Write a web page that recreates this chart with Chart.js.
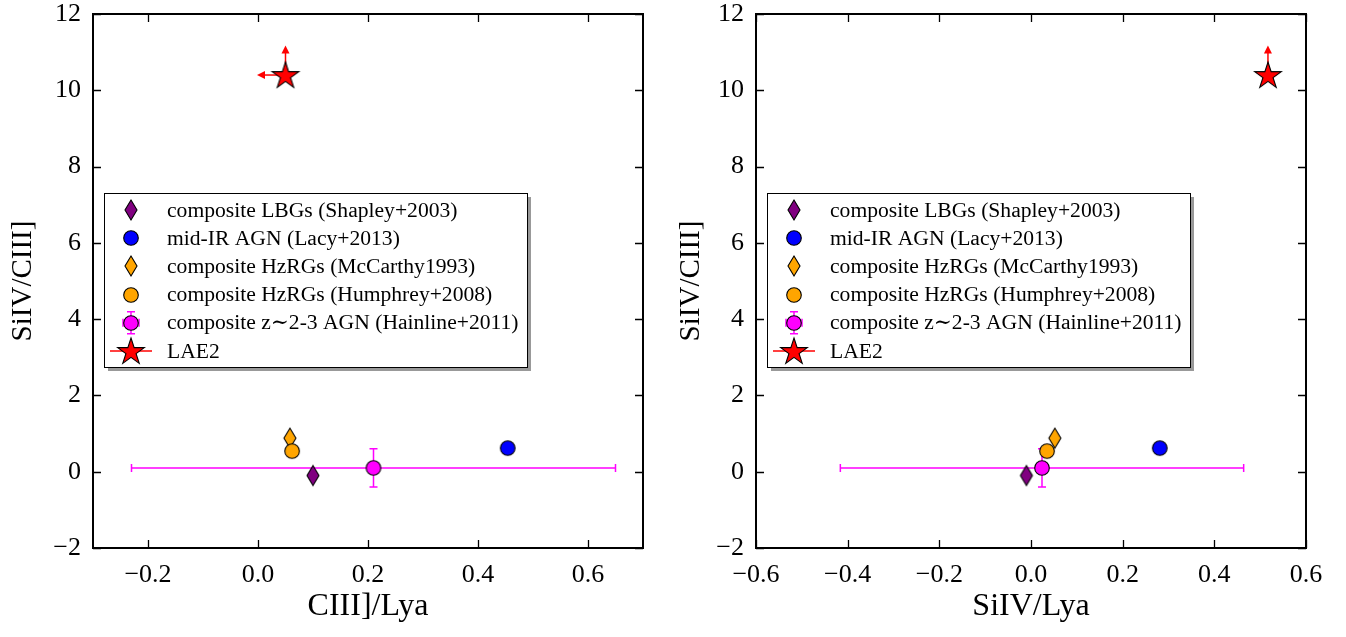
<!DOCTYPE html>
<html><head><meta charset="utf-8">
<script src="https://cdn.jsdelivr.net/npm/chart.js@4.4.1/dist/chart.umd.min.js"></script>
<style>
html,body{margin:0;padding:0;background:#fff;}
#wrap{display:flex;width:1346px;height:637px;}
canvas{display:block;}
</style></head><body>
<div id="wrap"><canvas id="c1" width="673" height="637"></canvas><canvas id="c2" width="673" height="637"></canvas></div>
<script>
// ---------- data ----------
const seriesLabels = [
  'composite LBGs (Shapley+2003)',
  'mid-IR AGN (Lacy+2013)',
  'composite HzRGs (McCarthy1993)',
  'composite HzRGs (Humphrey+2008)',
  'composite z\u223C2-3 AGN (Hainline+2011)',
  'LAE2'
];
const seriesColors = ['#800080', '#0000ff', '#ffa500', '#ffa500', '#ff00ff', '#ff0000'];
const seriesMarkers = ['diamond', 'circle', 'diamond', 'circle', 'circle', 'star'];
const siivCiiiValues = [-0.1, 0.62, 0.88, 0.54, 0.1, 10.4];
const ciiiLyaValues = [0.10, 0.454, 0.058, 0.062, 0.21, 0.05];
const siivLyaValues = [-0.01, 0.281, 0.052, 0.035, 0.024, 0.517];
const hainlineXErrCiii = 0.44;
const hainlineXErrSiiv = 0.44;
const hainlineYErr = 0.5;
const lae2YLimitLen = 0.75;
const lae2XLimitLenCiii = 0.05;
const yTicks = [-2, 0, 2, 4, 6, 8, 10, 12];
const yTickLabels = ['\u22122', '0', '2', '4', '6', '8', '10', '12'];
const xTicksCiii = [-0.2, 0.0, 0.2, 0.4, 0.6];
const xTickLabelsCiii = ['\u22120.2', '0.0', '0.2', '0.4', '0.6'];
const xTicksSiiv = [-0.6, -0.4, -0.2, 0.0, 0.2, 0.4, 0.6];
const xTickLabelsSiiv = ['\u22120.6', '\u22120.4', '\u22120.2', '0.0', '0.2', '0.4', '0.6'];

// ---------- styling ----------
const FONT = "'Liberation Serif', 'DejaVu Serif', serif";
Chart.defaults.font.family = FONT;
Chart.defaults.color = '#000';

function makeMarker(type, color) {
  const c = document.createElement('canvas');
  let ctx;
  if (type === 'diamond') {
    c.width = 16; c.height = 24; ctx = c.getContext('2d');
    ctx.beginPath(); ctx.moveTo(8, 2); ctx.lineTo(14, 12); ctx.lineTo(8, 22); ctx.lineTo(2, 12); ctx.closePath();
  } else if (type === 'circle') {
    c.width = 18; c.height = 18; ctx = c.getContext('2d');
    ctx.beginPath(); ctx.arc(9, 9, 7.3, 0, Math.PI * 2);
  } else {
    c.width = 32; c.height = 32; ctx = c.getContext('2d');
    const R = 14, r = R * 0.382, cx = 16, cy = 17;
    ctx.beginPath();
    for (let k = 0; k < 10; k++) {
      const a = -Math.PI / 2 + k * Math.PI / 5;
      const rr = k % 2 === 0 ? R : r;
      const px = cx + rr * Math.cos(a), py = cy + rr * Math.sin(a);
      k === 0 ? ctx.moveTo(px, py) : ctx.lineTo(px, py);
    }
    ctx.closePath();
  }
  ctx.fillStyle = color; ctx.fill();
  ctx.lineWidth = 1.1; ctx.strokeStyle = '#000'; ctx.lineJoin = 'miter'; ctx.stroke();
  return c;
}
const markerImgs = seriesMarkers.map((m, i) => makeMarker(m, seriesColors[i]));

function arrowHead(ctx, x, y, dir) {
  ctx.beginPath();
  if (dir === 'up') { ctx.moveTo(x, y - 1); ctx.lineTo(x - 4, y + 7); ctx.lineTo(x + 4, y + 7); }
  else { ctx.moveTo(x - 1, y); ctx.lineTo(x + 7, y - 4); ctx.lineTo(x + 7, y + 4); }
  ctx.closePath(); ctx.fill();
}

function makeChart(canvasId, xVals, xTicks, xTickLabels, xMin, xMax, xTitle, yAxisWidth, rightPad, yTitlePad, hainXErr, xLimLen) {
  const datasets = seriesLabels.map((lab, i) => ({
    label: lab,
    data: [{ x: xVals[i], y: siivCiiiValues[i] }],
    pointStyle: markerImgs[i],
    pointRadius: 10,
    order: 5 - i
  }));

  const errPlugin = {
    id: 'errbars',
    beforeDatasetsDraw(chart) {
      const ctx = chart.ctx, xs = chart.scales.x, ys = chart.scales.y;
      ctx.save();
      const hx = xVals[4], hy = siivCiiiValues[4];
      const px = xs.getPixelForValue(hx), py = ys.getPixelForValue(hy);
      const x0 = xs.getPixelForValue(hx - hainXErr), x1 = xs.getPixelForValue(hx + hainXErr);
      const y0 = ys.getPixelForValue(hy - hainlineYErr), y1 = ys.getPixelForValue(hy + hainlineYErr);
      ctx.strokeStyle = '#ff00ff'; ctx.lineWidth = 1.5;
      ctx.beginPath();
      ctx.moveTo(x0, py); ctx.lineTo(x1, py);
      ctx.moveTo(x0, py - 4); ctx.lineTo(x0, py + 4);
      ctx.moveTo(x1, py - 4); ctx.lineTo(x1, py + 4);
      ctx.moveTo(px, y0); ctx.lineTo(px, y1);
      ctx.moveTo(px - 4, y0); ctx.lineTo(px + 4, y0);
      ctx.moveTo(px - 4, y1); ctx.lineTo(px + 4, y1);
      ctx.stroke();
      const lx = xVals[5], ly = siivCiiiValues[5];
      const sx = xs.getPixelForValue(lx), sy = ys.getPixelForValue(ly);
      ctx.strokeStyle = '#ff0000'; ctx.fillStyle = '#ff0000'; ctx.lineWidth = 1.5;
      const ty = ys.getPixelForValue(ly + lae2YLimitLen);
      ctx.beginPath(); ctx.moveTo(sx, sy); ctx.lineTo(sx, ty + 4); ctx.stroke();
      arrowHead(ctx, sx, ty, 'up');
      if (xLimLen) {
        const tx = xs.getPixelForValue(lx - xLimLen);
        ctx.beginPath(); ctx.moveTo(sx, sy); ctx.lineTo(tx + 4, sy); ctx.stroke();
        arrowHead(ctx, tx, sy, 'left');
      }
      ctx.restore();
    }
  };

  const framePlugin = {
    id: 'frame',
    afterDatasetsDraw(chart) {
      const ctx = chart.ctx, a = chart.chartArea, xs = chart.scales.x, ys = chart.scales.y;
      ctx.save();
      ctx.strokeStyle = '#000'; ctx.lineWidth = 1.3;
      ctx.beginPath();
      xTicks.forEach(v => {
        const p = Math.round(xs.getPixelForValue(v)) + 0.5;
        ctx.moveTo(p, a.bottom); ctx.lineTo(p, a.bottom - 8);
        ctx.moveTo(p, a.top); ctx.lineTo(p, a.top + 8);
      });
      yTicks.forEach(v => {
        const p = Math.round(ys.getPixelForValue(v)) + 0.5;
        ctx.moveTo(a.left, p); ctx.lineTo(a.left + 8, p);
        ctx.moveTo(a.right, p); ctx.lineTo(a.right - 8, p);
      });
      ctx.stroke();
      ctx.lineWidth = 2;
      ctx.strokeRect(a.left, a.top, a.right - a.left, a.bottom - a.top);
      ctx.restore();
    }
  };

  const legendPlugin = {
    id: 'boxlegend',
    afterDraw(chart) {
      const ctx = chart.ctx, a = chart.chartArea;
      const L = a.left + 11, T = 193, W = 423, H = 174;
      ctx.save();
      ctx.fillStyle = 'rgba(0,0,0,0.4)';
      ctx.fillRect(L + 4, T + 4, W, H);
      ctx.fillStyle = '#fff';
      ctx.fillRect(L, T, W, H);
      ctx.strokeStyle = '#000'; ctx.lineWidth = 1;
      ctx.strokeRect(L + 0.5, T + 0.5, W, H);
      const mx = L + 27;
      ctx.font = '21.6px ' + FONT;
      ctx.textBaseline = 'middle';
      seriesLabels.forEach((lab, i) => {
        const y = T + 17 + i * 28.2;
        if (i === 4) {
          ctx.strokeStyle = '#ff00ff'; ctx.lineWidth = 1.5;
          ctx.beginPath();
          ctx.moveTo(mx - 8, y); ctx.lineTo(mx + 8, y);
          ctx.moveTo(mx - 8, y - 4); ctx.lineTo(mx - 8, y + 4);
          ctx.moveTo(mx + 8, y - 4); ctx.lineTo(mx + 8, y + 4);
          ctx.moveTo(mx, y - 11); ctx.lineTo(mx, y + 11);
          ctx.moveTo(mx - 4, y - 11); ctx.lineTo(mx + 4, y - 11);
          ctx.moveTo(mx - 4, y + 11); ctx.lineTo(mx + 4, y + 11);
          ctx.stroke();
        }
        if (i === 5) {
          ctx.strokeStyle = '#ff0000'; ctx.lineWidth = 1.5;
          ctx.beginPath(); ctx.moveTo(mx - 21, y); ctx.lineTo(mx + 21, y); ctx.stroke();
        }
        const img = markerImgs[i];
        ctx.drawImage(img, Math.round(mx - img.width / 2), Math.round(y - img.height / 2));
        ctx.fillStyle = '#000';
        ctx.fillText(lab, L + 63, y + 1);
      });
      ctx.restore();
    }
  };

  return new Chart(document.getElementById(canvasId), {
    type: 'scatter',
    data: { datasets },
    options: {
      responsive: false,
      animation: false,
      devicePixelRatio: 1,
      events: [],
      layout: { padding: { top: 14, right: rightPad, left: 0, bottom: 0 } },
      plugins: { legend: { display: false }, tooltip: { enabled: false } },
      scales: {
        x: {
          type: 'linear', min: xMin, max: xMax,
          afterBuildTicks: s => { s.ticks = xTicks.map(v => ({ value: v })); },
          afterFit: s => { s.height = 89; s.paddingLeft = 0; s.paddingRight = 0; },
          grid: { display: false, drawTicks: false },
          border: { display: false },
          ticks: { autoSkip: false, maxRotation: 0, padding: 12, font: { size: 26 },
                   callback: (v, i) => xTickLabels[i] },
          title: { display: true, text: xTitle, font: { size: 32, lineHeight: 1.0 }, padding: { top: 0, bottom: 14 } }
        },
        y: {
          type: 'linear', min: -2, max: 12,
          afterBuildTicks: s => { s.ticks = yTicks.map(v => ({ value: v })); },
          afterFit: s => { s.width = yAxisWidth; s.paddingTop = 0; s.paddingBottom = 0; },
          grid: { display: false, drawTicks: false },
          border: { display: false },
          ticks: { autoSkip: false, padding: 12, font: { size: 26 },
                   callback: (v, i) => yTickLabels[i] },
          title: { display: true, text: 'SiIV/CIII]', font: { size: 29, lineHeight: 1.0 }, padding: { top: yTitlePad, bottom: 0 } }
        }
      }
    },
    plugins: [errPlugin, framePlugin, legendPlugin]
  });
}

makeChart('c1', ciiiLyaValues, xTicksCiii, xTickLabelsCiii, -0.3, 0.7, 'CIII]/Lya', 93, 30, 9, hainlineXErrCiii, lae2XLimitLenCiii);
makeChart('c2', siivLyaValues, xTicksSiiv, xTickLabelsSiiv, -0.6, 0.6, 'SiIV/Lya', 83, 40, 4, hainlineXErrSiiv, 0);
</script>
</body></html>
